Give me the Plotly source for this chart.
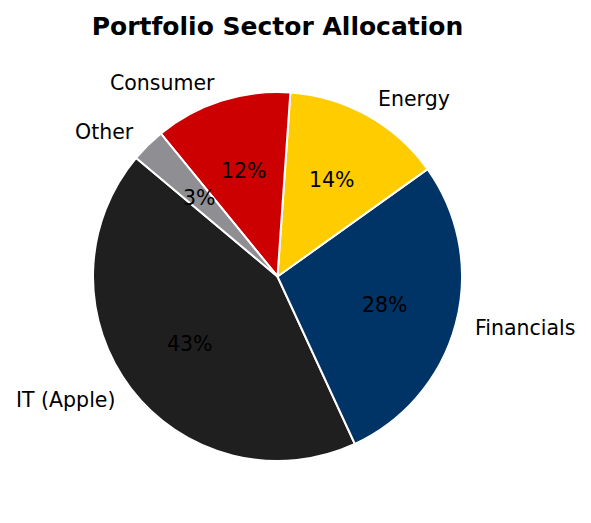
import math
import plotly.graph_objects as go

labels = ["IT (Apple)", "Financials", "Energy", "Consumer", "Other"]
values = [43, 28, 14, 12, 3]
colors = ["#1f1f1f", "#003366", "#FFCC00", "#CC0000", "#8E8E93"]
title_text = "Portfolio Sector Allocation"

OFF = 8  # page body margin in the browser
W, H = 591 - 2 * OFF, 523 - 2 * OFF
cx, cy, R = 277.5 - OFF, 276.5 - OFF, 184.5
start_deg = 140.0  # matplotlib-style start angle, counterclockwise
FONT = "DejaVu Sans"

total = sum(values)
first_span = 360.0 * values[0] / total

fig = go.Figure()
fig.add_trace(go.Pie(
    labels=labels, values=values, sort=False,
    direction="counterclockwise", rotation=90 - (start_deg + first_span),
    marker=dict(colors=colors, line=dict(color="white", width=2)),
    textinfo="none", hoverinfo="label+percent",
    showlegend=False,
    domain=dict(x=[(cx - R) / W, (cx + R) / W], y=[1 - (cy + R) / H, 1 - (cy - R) / H]),
))

ann = []
ang = start_deg
for lab, v in zip(labels, values):
    span = 360.0 * v / total
    mid = math.radians(ang + span / 2)
    ang += span
    c, s = math.cos(mid), math.sin(mid)
    px, py = cx + 0.6 * R * c, cy - 0.6 * R * s
    ann.append(dict(x=px / W, y=1 - py / H, xref="paper", yref="paper",
                    text=f"{100.0 * v / total:.0f}%", showarrow=False,
                    xanchor="center", yanchor="middle", borderpad=0,
                    font=dict(family=FONT, size=20.5, color="black")))
    lx, ly = cx + 1.1 * R * c, cy - 1.1 * R * s
    ann.append(dict(x=lx / W, y=1 - ly / H, xref="paper", yref="paper",
                    text=lab, showarrow=False, borderpad=0,
                    xanchor="left" if c > 0 else "right", yanchor="middle",
                    font=dict(family=FONT, size=20.5, color="black")))

fig.update_layout(
    width=W, height=H,
    margin=dict(l=0, r=0, t=0, b=0),
    paper_bgcolor="white", plot_bgcolor="white",
    title=dict(text=f"<b>{title_text}</b>", x=cx / W, xanchor="center",
               xref="paper", yref="container", y=1 - (26 - OFF) / H, yanchor="middle",
               font=dict(family=FONT, size=25, color="black")),
    annotations=ann,
)
fig.write_html("out.html")
